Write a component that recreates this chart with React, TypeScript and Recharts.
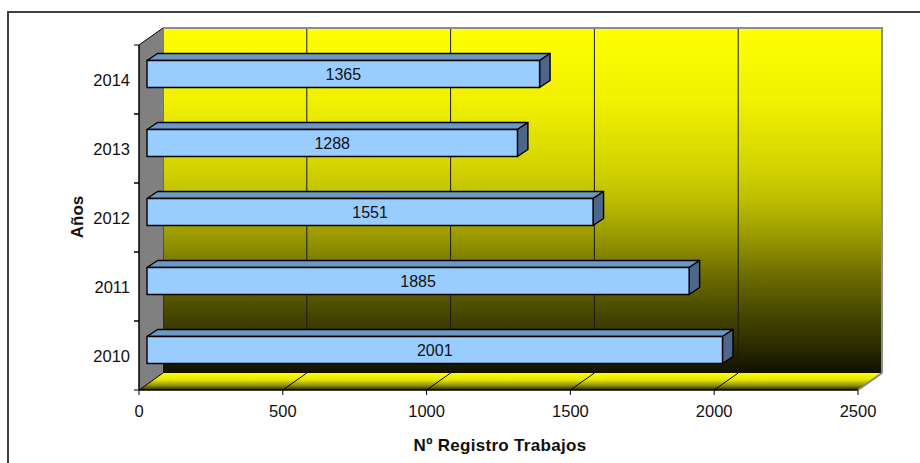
import React from 'react';
import { BarChart, Bar, XAxis, YAxis, CartesianGrid, LabelList, Customized } from 'recharts';

const years = ['2010', '2011', '2012', '2013', '2014'];
const registros = [2001, 1885, 1551, 1288, 1365];
const xTicks = [0, 500, 1000, 1500, 2000, 2500];

const data = years.map((year, i) => ({ year, registros: registros[i] }));

const W = 920;
const H = 463;
const margin = { top: 45, right: 62, bottom: 43, left: 79 };
const plot = { left: 139, top: 45, right: 858, bottom: 390 };
const BAND = (plot.bottom - plot.top) / years.length;
// depth of the 3d box, and of the bars inside it
const DEPTH = { dx: 24, dy: -17 };
const BAR_SHIFT = { dx: 8, dy: -5.5 };
const BAR_DEPTH = { dx: 10.5, dy: -7 };
const FONT = '"Liberation Sans", Arial, sans-serif';

function Bar3D(props: any) {
  const { x, y, width, height } = props;
  const fx = x + BAR_SHIFT.dx;
  const fy = y + BAR_SHIFT.dy;
  const { dx, dy } = BAR_DEPTH;
  return (
    <g stroke="#000" strokeWidth={1.4} strokeLinejoin="round">
      <polygon
        points={`${fx},${fy} ${fx + dx},${fy + dy} ${fx + width + dx},${fy + dy} ${fx + width},${fy}`}
        fill="#6E98C4"
      />
      <polygon
        points={`${fx + width},${fy} ${fx + width + dx},${fy + dy} ${fx + width + dx},${fy + height + dy} ${fx + width},${fy + height}`}
        fill="#4E6689"
      />
      <rect x={fx} y={fy} width={width} height={height} fill="#99CCFF" />
    </g>
  );
}

const renderValue = (p: any) => {
  const { x, y, width, height, value } = p;
  return (
    <text
      x={x + BAR_SHIFT.dx + width / 2}
      y={y + BAR_SHIFT.dy + height / 2 + 6}
      textAnchor="middle"
      fontSize={16}
      fontFamily={FONT}
      fill="#111"
    >
      {value}
    </text>
  );
};

function XTick(props: any) {
  const { x, y, payload, index } = props;
  const last = index === xTicks.length - 1;
  return (
    <g>
      <line x1={x} y1={y} x2={x} y2={y + 5} stroke="#000" />
      <line x1={x} y1={y} x2={x + DEPTH.dx} y2={y + DEPTH.dy} stroke={last ? '#888' : '#000'} strokeWidth={last ? 2 : 1} />
      <text x={x} y={y + 27} textAnchor="middle" fontSize={16.5} fontFamily={FONT} fill="#111">
        {payload.value}
      </text>
    </g>
  );
}

function YTick(props: any) {
  const { x, y, payload } = props;
  return (
    <g>
      <line x1={x - 5} y1={y - BAND / 2} x2={x} y2={y - BAND / 2} stroke="#000" />
      <line x1={x - 5} y1={y + BAND / 2} x2={x} y2={y + BAND / 2} stroke="#000" />
      <text x={x - 9} y={y + 6} textAnchor="end" fontSize={16.5} fontFamily={FONT} fill="#111">
        {payload.value}
      </text>
    </g>
  );
}

function Walls() {
  const { left, top, right, bottom } = plot;
  const { dx, dy } = DEPTH;
  return (
    <g>
      <rect x={8} y={12} width={1000} height={1000} fill="none" stroke="#404040" strokeWidth={2} />
      <polygon
        points={`${left},${top} ${left + dx},${top + dy} ${left + dx},${bottom + dy} ${left},${bottom}`}
        fill="#808080"
      />
      <line x1={left} y1={top} x2={left + dx} y2={top + dy} stroke="#000" />
      <polygon
        points={`${left},${bottom} ${right},${bottom} ${right + dx},${bottom + dy} ${left + dx},${bottom + dy}`}
        fill="url(#floorGrad)"
      />
      <polyline
        points={`${left + dx},${top + dy} ${right + dx},${top + dy} ${right + dx},${bottom + dy}`}
        fill="none"
        stroke="#8c8c8c"
        strokeWidth={2}
      />
      <text x={500} y={451} textAnchor="middle" fontSize={17} fontWeight="bold" fontFamily={FONT} fill="#111" letterSpacing={0.3}>
        Nº Registro Trabajos
      </text>
      <text transform="translate(83,217) rotate(-90)" textAnchor="middle" fontSize={17} fontWeight="bold" fontFamily={FONT} fill="#111">
        Años
      </text>
    </g>
  );
}

export default function App() {
  return (
    <div style={{ position: 'absolute', left: 0, top: 0, width: W, height: H, background: '#fff' }}>
      <style>{`.recharts-cartesian-grid { transform: translate(${DEPTH.dx}px, ${DEPTH.dy}px); }`}</style>
      <BarChart width={W} height={H} data={data} layout="vertical" margin={margin}>
        <defs>
          <linearGradient id="wallGrad" x1="0" y1="0" x2="0" y2="1">
            <stop offset="0" stopColor="#FFFF00" />
            <stop offset="0.2" stopColor="#F2F200" />
            <stop offset="0.4" stopColor="#D4D400" />
            <stop offset="0.5" stopColor="#BDBD00" />
            <stop offset="0.6" stopColor="#9A9A00" />
            <stop offset="0.7" stopColor="#737300" />
            <stop offset="0.8" stopColor="#505000" />
            <stop offset="0.9" stopColor="#323200" />
            <stop offset="1" stopColor="#111100" />
          </linearGradient>
          <linearGradient id="floorGrad" x1="0" y1="0" x2="0" y2="1">
            <stop offset="0" stopColor="#FFFF00" />
            <stop offset="0.4" stopColor="#E6E600" />
            <stop offset="0.7" stopColor="#9A9A00" />
            <stop offset="1" stopColor="#2A2A00" />
          </linearGradient>
        </defs>
        <CartesianGrid horizontal={false} fill="url(#wallGrad)" fillOpacity={1} stroke="#1a1a1a" strokeOpacity={1} />
        <Customized component={<Walls />} />
        <XAxis
          type="number"
          domain={[0, 2500]}
          ticks={xTicks}
          height={30}
          tickSize={0}
          tickMargin={0}
          tick={<XTick />}
          axisLine={{ stroke: '#000', strokeWidth: 1.5 }}
          tickLine={false}
        />
        <YAxis
          type="category"
          dataKey="year"
          reversed
          width={60}
          tickSize={0}
          tickMargin={0}
          tick={<YTick />}
          axisLine={{ stroke: '#000', strokeWidth: 1.5 }}
          tickLine={false}
        />
        <Bar dataKey="registros" barSize={27} shape={<Bar3D />} isAnimationActive={false}>
          <LabelList dataKey="registros" content={renderValue} />
        </Bar>
      </BarChart>
    </div>
  );
}
